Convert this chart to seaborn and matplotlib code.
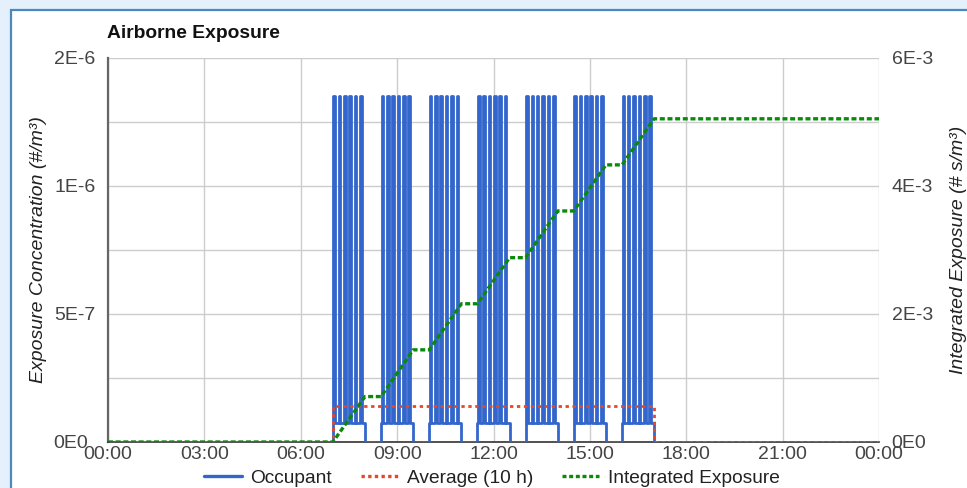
import matplotlib
matplotlib.use("Agg")
import matplotlib.pyplot as plt
from matplotlib.patches import Rectangle
from matplotlib.lines import Line2D
from matplotlib.transforms import ScaledTranslation
import pandas as pd
import seaborn as sns

# Occupied sessions (hour of day) and the concentration pulses inside each one
session_starts_h = [7.0, 8.5, 10.0, 11.5, 13.0, 14.5, 16.0]
session_length_h = 1.0
pulse_offsets_min = [1, 11, 21, 31, 41, 51]
pulse_width_min = 3.0
pulse_peak = 1.8e-6          # #/m³
background_level = 1.0e-7    # #/m³ between pulses

# 10 h running average
average_window_h = [7.0, 17.0]
average_level = 1.875e-7

# Cumulative exposure at the end of each session (# s/m³)
integrated_at_session_end = [0.71e-3, 1.44e-3, 2.16e-3, 2.88e-3, 3.61e-3, 4.33e-3, 5.05e-3]

hour_ticks = [0, 3, 6, 9, 12, 15, 18, 21, 24]
hour_labels = ["00:00", "03:00", "06:00", "09:00", "12:00", "15:00", "18:00", "21:00", "00:00"]
conc_ticks = [0.0, 2e-6 / 3, 4e-6 / 3, 2e-6]
conc_labels = ["0E0", "5E-7", "1E-6", "2E-6"]
expo_ticks = [0.0, 2e-3, 4e-3, 6e-3]
expo_labels = ["0E0", "2E-3", "4E-3", "6E-3"]

BLUE = "#3366cc"
RED = "#e2492a"
GREEN = "#0a8a0a"
TEXT = "#444444"
FS = 14

# ---- build the series -------------------------------------------------------
occ_t, occ_c = [0.0], [0.0]
for s in session_starts_h:
    occ_t.append(s); occ_c.append(0.0)
    occ_t.append(s); occ_c.append(background_level)
    for off in pulse_offsets_min:
        a = s + off / 60.0
        b = a + pulse_width_min / 60.0
        occ_t += [a, a, b, b]
        occ_c += [background_level, pulse_peak, pulse_peak, background_level]
    e = s + session_length_h
    occ_t += [e, e]
    occ_c += [background_level, 0.0]
occ_t.append(24.0); occ_c.append(0.0)
occupant = pd.DataFrame({"hour": occ_t, "conc": occ_c})

w0, w1 = average_window_h
average = pd.DataFrame({"hour": [0, w0, w0, w1, w1, 24],
                        "conc": [0, 0, average_level, average_level, 0, 0]})

int_t, int_v = [0.0], [0.0]
prev = 0.0
for s, v in zip(session_starts_h, integrated_at_session_end):
    int_t += [s, s + session_length_h]
    int_v += [prev, v]
    prev = v
int_t.append(24.0); int_v.append(prev)
integrated = pd.DataFrame({"hour": int_t, "expo": int_v})

# ---- figure ------------------------------------------------------------------
sns.set_style("white")
plt.rcParams["font.family"] = ["Liberation Sans", "DejaVu Sans"]

W, H = 967, 488
fig = plt.figure(figsize=(W / 100, H / 100), dpi=100)
fig.patch.set_facecolor("#e4f0fb")
fig.add_artist(Rectangle((11 / W, -0.1), 1.2, 1.1 - 10 / H, transform=fig.transFigure,
                         facecolor="white", edgecolor="#4a88bd", linewidth=1.6, zorder=0))

L, R, T, B = 108, 879, 58, 442
ax = fig.add_axes([L / W, 1 - B / H, (R - L) / W, (B - T) / H])
ax2 = ax.twinx()

sns.lineplot(data=occupant, x="hour", y="conc", ax=ax, sort=False, estimator=None,
             color=BLUE, linewidth=2.0, zorder=3)
sns.lineplot(data=average, x="hour", y="conc", ax=ax, sort=False, estimator=None,
             color=RED, linewidth=2.0, linestyle=(0, (1.2, 1.3)), zorder=4)
sns.lineplot(data=integrated, x="hour", y="expo", ax=ax2, sort=False, estimator=None,
             color=GREEN, linewidth=2.4, linestyle=(0, (1.5, 0.8)), zorder=4)

ax.set_xlim(0, 24)
ax.set_ylim(0, 2e-6)
ax2.set_ylim(0, 6e-3)

ax.set_xticks(hour_ticks)
ax.set_xticklabels(hour_labels)
ax.set_yticks(conc_ticks)
ax.set_yticklabels(conc_labels)
ax.set_yticks([c + 1e-6 / 3 for c in conc_ticks[:-1]], minor=True)
ax2.set_yticks(expo_ticks)
ax2.set_yticklabels(expo_labels)

ax.grid(True, which="both", axis="y", color="#cccccc", linewidth=1.0)
ax.grid(True, which="major", axis="x", color="#cccccc", linewidth=1.0)
ax2.grid(False)
ax.set_axisbelow(True)

ax.tick_params(axis="both", which="both", length=0, labelsize=FS, labelcolor=TEXT)
ax.tick_params(axis="y", pad=9)
ax.tick_params(axis="x", pad=3)
ax2.tick_params(axis="y", length=0, labelsize=FS, labelcolor=TEXT, pad=9)

# the zero label on the left sits a little further out
zero_lbl = ax.yaxis.get_major_ticks()[0].label1
zero_lbl.set_transform(zero_lbl.get_transform() + ScaledTranslation(-0.07, 0, fig.dpi_scale_trans))

for sp in ["top", "right"]:
    ax.spines[sp].set_visible(False)
ax.spines["left"].set_color("#666666")
ax.spines["left"].set_linewidth(1.6)
ax.spines["bottom"].set_color("#333333")
ax.spines["bottom"].set_linewidth(1.2)
for sp in ax2.spines.values():
    sp.set_visible(False)

ax.set_xlabel("")
ax.set_ylabel("Exposure Concentration (#/m³)", fontsize=FS, style="italic",
              color="#222222", labelpad=5)
ax2.set_ylabel("Integrated Exposure (# s/m³)", fontsize=FS, style="italic",
               color="#222222", labelpad=12)

fig.text(107 / W, 1 - 33 / H, "Airborne Exposure", fontsize=13.9, fontweight="bold",
         color="#111111", ha="left", va="center")

handles = [
    Line2D([], [], color=BLUE, linewidth=2.4),
    Line2D([], [], color=RED, linewidth=2.4, linestyle=(0, (1.0, 1.0))),
    Line2D([], [], color=GREEN, linewidth=2.4, linestyle=(0, (1.2, 0.8))),
]
fig.legend(handles, ["Occupant", "Average (10 h)", "Integrated Exposure"],
           loc="center", bbox_to_anchor=(492 / W, 1 - 478 / H), ncol=3, frameon=False,
           fontsize=13.8, handlelength=1.95, handletextpad=0.45, columnspacing=1.5,
           labelcolor="#222222")

fig.savefig("out.png", dpi=100, facecolor=fig.get_facecolor())
